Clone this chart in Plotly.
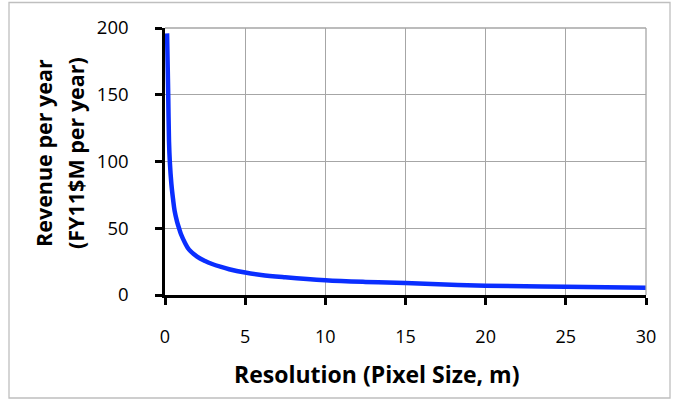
import plotly.graph_objects as go

pixel_size_m = [0.13, 0.17, 0.2, 0.25, 0.3, 0.4, 0.5, 0.6, 0.75, 0.875, 1.0, 1.25, 1.5,
                2.0, 2.5, 2.9, 3.5, 4.0, 5.0, 6.0, 7.5, 10.0, 12.5, 15.0, 20.0, 25.0, 30.0]
revenue_musd = [196, 170, 150, 115, 100, 83, 72, 63, 55, 50, 45.5, 39, 34,
                28.8, 25.5, 23.4, 21, 19.3, 16.8, 15.0, 13.3, 11.1, 9.8, 8.9, 7.0, 6.2, 5.5]

x_ticks = [0, 5, 10, 15, 20, 25, 30]
y_ticks = [0, 50, 100, 150, 200]

x_title = "Resolution (Pixel Size, m)"
y_title_1 = "Revenue per year"
y_title_2 = "(FY11$M per year)"

FONT = "Open Sans"
L, R, T, B = 165, 31, 28, 107
W, H = 677, 402
pw, ph = W - L - R, H - T - B

fig = go.Figure()
fig.add_trace(go.Scatter(
    x=pixel_size_m, y=revenue_musd, mode="lines",
    line=dict(color="#0a2eff", width=4.5, shape="spline", smoothing=1.0),
    showlegend=False, hoverinfo="skip"))

fig.update_layout(
    width=W, height=H,
    margin=dict(l=L, r=R, t=T, b=B, pad=0),
    paper_bgcolor="white", plot_bgcolor="white",
    font=dict(family=FONT, size=18, color="black"),
    xaxis=dict(range=[0, 30], tickvals=x_ticks, showgrid=True, gridcolor="#a6a6a6",
               gridwidth=1.3, showline=True, linecolor="black", linewidth=2.5,
               ticks="outside", ticklen=7, tickwidth=2.5, tickcolor="black",
               ticklabelstandoff=17, zeroline=False, mirror=False,
               tickfont=dict(family=FONT, size=18)),
    yaxis=dict(range=[0, 200], tickvals=y_ticks, showgrid=True, gridcolor="#a6a6a6",
               gridwidth=1.3, showline=True, linecolor="black", linewidth=2.5,
               ticks="outside", ticklen=7, tickwidth=2.5, tickcolor="black",
               ticklabelstandoff=23, zeroline=False,
               tickfont=dict(family=FONT, size=18.5)),
    shapes=[
        dict(type="line", xref="paper", yref="paper", x0=1, x1=1, y0=0, y1=1,
             line=dict(color="#a6a6a6", width=1.3)),
        dict(type="line", xref="paper", yref="paper", x0=0, x1=1, y0=1, y1=1,
             line=dict(color="#a6a6a6", width=1.3)),
        dict(type="rect", xref="paper", yref="paper",
             x0=(9 - L) / pw, x1=(670 - L) / pw,
             y0=(H - B - 398) / ph, y1=(H - B - 2.5) / ph,
             line=dict(color="#bfbfbf", width=1.3), layer="below"),
    ],
    annotations=[
        dict(text="<b>%s</b>" % x_title, xref="paper", yref="paper",
             x=(376 - L) / pw, y=(H - B - 374) / ph, showarrow=False,
             xanchor="center", yanchor="middle",
             font=dict(family=FONT, size=23)),
        dict(text="<b>%s</b>" % y_title_1, xref="paper", yref="paper",
             x=(43 - L) / pw, y=(H - B - 153) / ph, showarrow=False, textangle=-90,
             xanchor="center", yanchor="middle",
             font=dict(family=FONT, size=21.5)),
        dict(text="<b>%s</b>" % y_title_2, xref="paper", yref="paper",
             x=(75 - L) / pw, y=(H - B - 153) / ph, showarrow=False, textangle=-90,
             xanchor="center", yanchor="middle",
             font=dict(family=FONT, size=21.5)),
    ],
)

fig.write_html("out.html", config={"displayModeBar": False},
               post_script="document.body.style.margin='0px';")
